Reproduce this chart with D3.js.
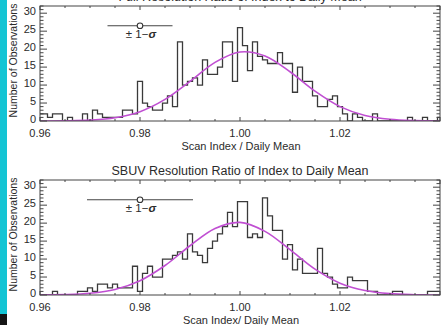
<!DOCTYPE html>
<html>
<head>
<meta charset="utf-8">
<script src="https://cdn.jsdelivr.net/npm/d3@7"></script>
<style>
  html, body { margin: 0; padding: 0; background: #fff; }
  svg { display: block; }
  text { font-family: "Liberation Sans", Arial, sans-serif; fill: #2b2b2b; }
</style>
</head>
<body>
<svg id="chart" width="444" height="325"></svg>
<script>
// tick labels
const xTicks = [0.96, 0.98, 1.00, 1.02];
const yTicks = [0, 5, 10, 15, 20, 25, 30];

// histogram bins: 0.001 wide, first bin centred on 0.960
const binStart = 0.9595;
const binWidth = 0.001;

const fullCounts = [
  2, 2, 1, 2, 2, 0, 1, 0, 0, 2,
  0, 3, 2, 1, 1, 1, 1, 3, 3, 2,
  11, 5, 4, 3, 3, 5, 7, 4, 22, 10,
  11, 12, 10, 17, 13, 13, 15, 22, 22, 11,
  26, 21, 14, 22, 18, 17, 16, 16, 19, 16,
  16, 8, 15, 11, 11, 7, 4, 4, 6, 7,
  4, 2, 0, 2, 1, 0, 0, 2, 0, 0,
  0, 0, 0, 0, 1, 0, 0, 1, 0, 0,
  1
];

const sbuvCounts = [
  0, 0, 0, 1, 0, 0, 0, 0, 1, 1,
  2, 1, 3, 3, 2, 3, 2, 2, 2, 8,
  1, 6, 8, 5, 5, 10, 10, 11, 12, 10,
  17, 12, 11, 9, 13, 15, 17, 19, 23, 19,
  26, 26, 16, 17, 16, 27, 22, 18, 18, 10,
  14, 7, 10, 6, 6, 6, 13, 6, 5, 3,
  2, 2, 5, 4, 4, 4, 1, 1, 0, 0,
  0, 1, 1, 0, 0, 0, 0, 0, 1, 1,
  1
];

// gaussian fits
const fitX = [0.960, 0.965, 0.970, 0.975, 0.980, 0.985, 0.990, 0.995, 1.000,
              1.005, 1.010, 1.015, 1.020, 1.025, 1.030, 1.035, 1.040];
const fullFit = [0.01, 0.06, 0.25, 0.9, 2.6, 6.0, 11.0, 16.3, 19.2,
                 18.1, 13.7, 8.3, 4.0, 1.55, 0.48, 0.12, 0.02];
const sbuvFit = [0.03, 0.12, 0.49, 1.54, 3.96, 8.2, 13.7, 18.5, 20.2,
                 17.7, 12.6, 7.2, 3.3, 1.24, 0.37, 0.09, 0.02];

// legend bar: circle at 0.98, +/- one sigma
const legendX = 0.98;
const legendY = 26.5;
const fullSigma = 0.0065;
const sbuvSigma = 0.0106;

const svg = d3.select('#chart');

// strip at the left edge of the screenshot
svg.append('rect').attr('x', 0).attr('y', 0).attr('width', 7).attr('height', 325).attr('fill', '#14c4d4');
svg.append('rect').attr('x', 0).attr('y', 314).attr('width', 7).attr('height', 11).attr('fill', '#151515');

const x = d3.scaleLinear().domain([0.96, 1.04]).range([40, 440]);

function drawPanel(p) {
  const top = p.bottom - 115;
  const y = d3.scaleLinear().domain([0, 32]).range([p.bottom, top]);
  const g = svg.append('g');

  g.append('clipPath').attr('id', p.id)
    .append('rect')
    .attr('x', x(0.96)).attr('y', top)
    .attr('width', x(1.04) - x(0.96)).attr('height', p.bottom - top);

  // histogram outline
  const pts = p.counts.map((c, i) => [binStart + i * binWidth, c]);
  pts.push([binStart + p.counts.length * binWidth, p.counts[p.counts.length - 1]]);
  const step = d3.line().x(d => x(d[0])).y(d => y(d[1])).curve(d3.curveStepAfter);
  g.append('path')
    .datum(pts)
    .attr('clip-path', `url(#${p.id})`)
    .attr('fill', 'none')
    .attr('stroke', '#3a3a3a')
    .attr('stroke-width', 1.3)
    .attr('d', step);

  // fitted curve
  const fit = d3.line()
    .x((d, i) => x(fitX[i]))
    .y(d => y(d))
    .curve(d3.curveCatmullRom.alpha(0.5));
  g.append('path')
    .datum(p.fit)
    .attr('clip-path', `url(#${p.id})`)
    .attr('fill', 'none')
    .attr('stroke', '#c04fd2')
    .attr('stroke-width', 1.6)
    .attr('d', fit);

  // frame
  g.append('rect')
    .attr('x', x(0.96)).attr('y', top)
    .attr('width', x(1.04) - x(0.96)).attr('height', p.bottom - top)
    .attr('fill', 'none').attr('stroke', '#444').attr('stroke-width', 1);

  // y ticks, left and right
  y.ticks(32).forEach(v => {
    const len = v % 5 === 0 ? 7 : 3.5;
    g.append('line').attr('x1', x(0.96)).attr('x2', x(0.96) + len)
      .attr('y1', y(v)).attr('y2', y(v)).attr('stroke', '#444');
    g.append('line').attr('x1', x(1.04)).attr('x2', x(1.04) - len)
      .attr('y1', y(v)).attr('y2', y(v)).attr('stroke', '#444');
  });
  // x ticks, bottom and top
  x.ticks(16).forEach(v => {
    const major = Math.abs(Math.round(v * 50) - v * 50) < 1e-6;
    const len = major ? 4 : 2;
    g.append('line').attr('x1', x(v)).attr('x2', x(v))
      .attr('y1', p.bottom).attr('y2', p.bottom - len).attr('stroke', '#444');
    g.append('line').attr('x1', x(v)).attr('x2', x(v))
      .attr('y1', top).attr('y2', top + len).attr('stroke', '#444');
  });

  g.selectAll('.ylab').data(yTicks).enter().append('text')
    .attr('x', 36).attr('y', d => y(d) + 1.5)
    .attr('text-anchor', 'end')
    .style('font-size', '11px')
    .text(d => d);

  g.selectAll('.xlab').data(xTicks).enter().append('text')
    .attr('x', d => x(d)).attr('y', p.bottom + 16)
    .attr('text-anchor', 'middle')
    .style('font-size', '11px')
    .text(d => d.toFixed(2));

  g.append('text')
    .attr('x', 240).attr('y', top - 5)
    .attr('text-anchor', 'middle')
    .style('font-size', '12.5px')
    .text(p.title);

  g.append('text')
    .attr('x', 241).attr('y', p.bottom + 29)
    .attr('text-anchor', 'middle')
    .style('font-size', '11px')
    .text(p.xTitle);

  g.append('text')
    .attr('transform', `translate(16.5,${(top + p.bottom) / 2 - 3}) rotate(-90)`)
    .attr('text-anchor', 'middle')
    .style('font-size', '10.5px')
    .text('Number of Observations');

  // sigma legend
  g.append('line')
    .attr('x1', x(legendX - p.sigma)).attr('x2', x(legendX + p.sigma))
    .attr('y1', y(legendY)).attr('y2', y(legendY))
    .attr('stroke', '#444').attr('stroke-width', 1.2);
  g.append('circle')
    .attr('cx', x(legendX)).attr('cy', y(legendY)).attr('r', 2.8)
    .attr('fill', '#fff').attr('stroke', '#333').attr('stroke-width', 1.1);
  const lt = g.append('text')
    .attr('x', x(legendX) + 1).attr('y', y(legendY) + 12)
    .attr('text-anchor', 'middle')
    .style('font-size', '11.5px');
  lt.append('tspan').text('\u00b1  1\u2212');
  lt.append('tspan').style('font-style', 'italic').style('font-weight', 'bold').text('\u03c3');
}

drawPanel({
  id: 'clipFull', bottom: 121, counts: fullCounts, fit: fullFit, sigma: fullSigma,
  title: 'Full Resolution Ratio of Index to Daily Mean',
  xTitle: 'Scan Index / Daily Mean'
});
drawPanel({
  id: 'clipSbuv', bottom: 295, counts: sbuvCounts, fit: sbuvFit, sigma: sbuvSigma,
  title: 'SBUV Resolution Ratio of Index to Daily Mean',
  xTitle: 'Scan Index/ Daily Mean'
});
</script>
</body>
</html>
